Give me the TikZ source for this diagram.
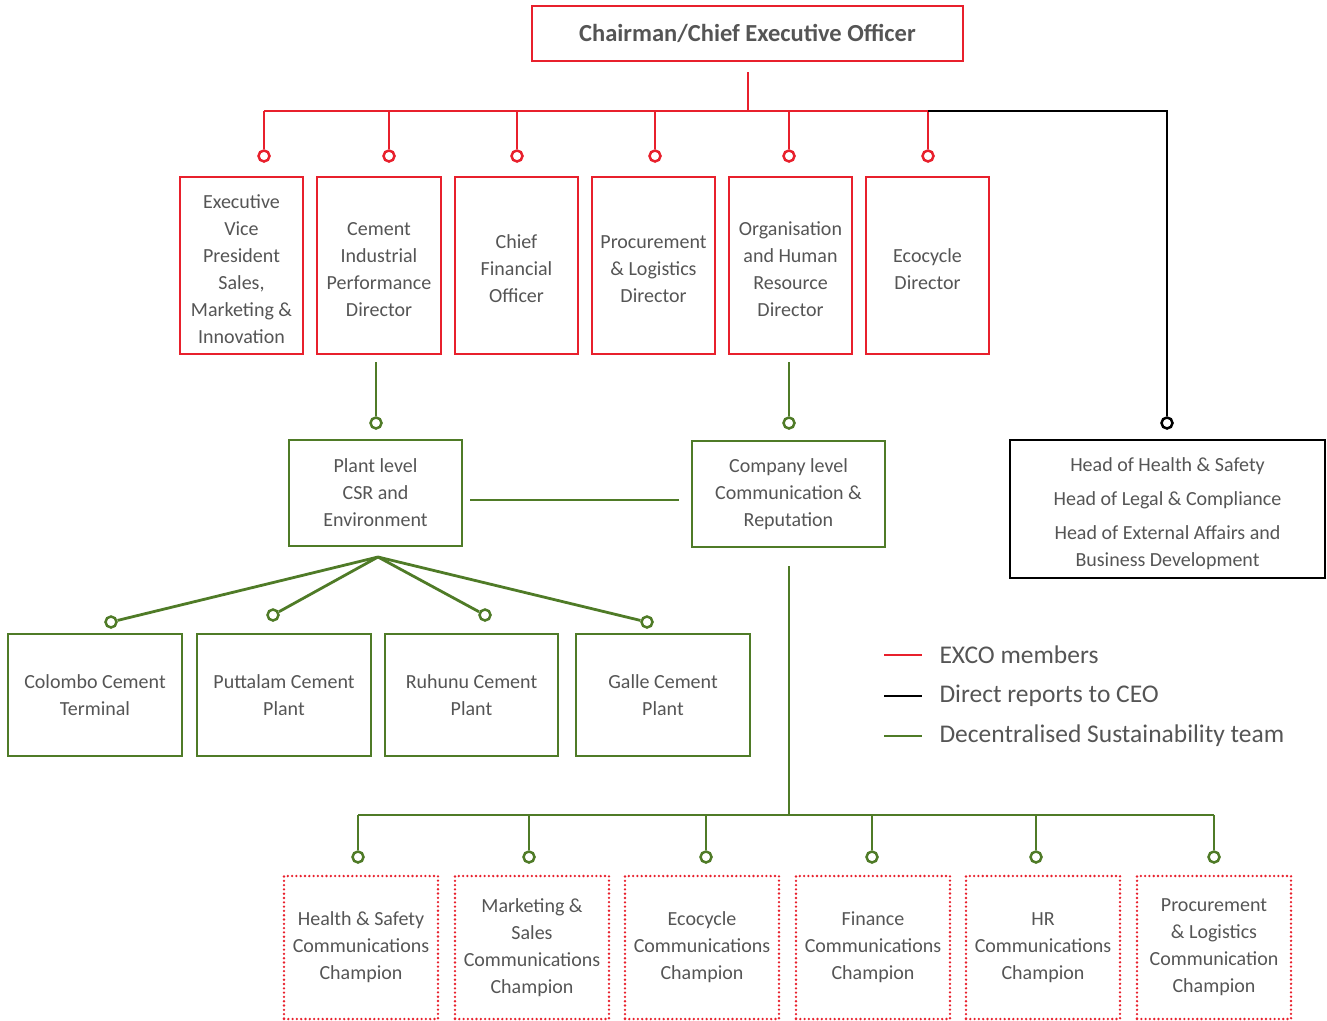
\documentclass[tikz,border=0pt]{standalone}
\usepackage{fontspec}
\setmainfont{Carlito}
% invisible strut that deepens the first line of a node's text
\newcommand\pushdown[1]{\rule{0pt}{#1}}
\begin{document}
\definecolor{exred}{HTML}{E8202C}
\definecolor{susgreen}{HTML}{4F7B27}
\definecolor{txtgrey}{HTML}{555555}
\begin{tikzpicture}[x=1pt,y=-1pt,
  every node/.style={text=txtgrey, align=center, font=\fontsize{20}{27}\selectfont},
  box/.style={draw, line width=2.8pt, fill=white, inner sep=0pt},
  redbox/.style={box, draw=exred},
  greenbox/.style={box, draw=susgreen},
  blackbox/.style={box, draw=black},
  dotbox/.style={draw=exred, line width=2.6pt, dash pattern=on 0pt off 4.3pt, line cap=round, inner sep=0pt},
  redl/.style={draw=exred, line width=2.8pt},
  greenl/.style={draw=susgreen, line width=2.8pt},
  blackl/.style={draw=black, line width=2.8pt},
  pin/.style={circle, minimum size=11pt, inner sep=0pt, line width=2.5pt, fill=white},
  redpin/.style={pin, draw=exred},
  greenpin/.style={pin, draw=susgreen},
  blackpin/.style={pin, draw=black},
]
\useasboundingbox (0,0) rectangle (1327,1020);

% ---- top level ----
\node[redbox, minimum width=431pt, minimum height=55pt, font=\fontsize{24.5}{27}\selectfont\bfseries] (ceo) at (747.5,33.5) {Chairman/Chief Executive Officer};

\node[redbox, minimum width=123pt, minimum height=177pt] (evp) at (241.5,265.5) {\pushdown{21pt}Executive\\Vice\\President\\Sales,\\Marketing \&\\Innovation};
\node[redbox, minimum width=124pt, minimum height=177pt] (cip) at (379,265.5) {\pushdown{21pt}Cement\\Industrial\\Performance\\Director};
\node[redbox, minimum width=123pt, minimum height=177pt] (cfo) at (516.5,265.5) {\pushdown{21pt}Chief\\Financial\\Officer};
\node[redbox, minimum width=123pt, minimum height=177pt] (pld) at (653.5,265.5) {\pushdown{21pt}Procurement\\\& Logistics\\Director};
\node[redbox, minimum width=123pt, minimum height=177pt] (ohr) at (790.5,265.5) {\pushdown{21pt}Organisation\\and Human\\Resource\\Director};
\node[redbox, minimum width=123pt, minimum height=177pt] (eco) at (927.5,265.5) {\pushdown{21pt}Ecocycle\\Director};

% CEO bus
\coordinate (ceostem) at (748,72);
\coordinate (bus) at (748,111);
\draw[redl] (ceostem) -- (bus);
\foreach \x/\n in {264/1,389/2,517/3,655/4,789/5,928/6}{
  \coordinate (tap\n) at (\x,111);
  \node[redpin] (rp\n) at (\x,156) {};
}
\draw[redl] (tap1) -- (tap6);
\foreach \n in {1,...,6}{ \draw[redl] (tap\n) -- (rp\n.north); }

% direct reports
\node[blackbox, minimum width=315pt, minimum height=138pt, font=\fontsize{20}{34}\selectfont] (heads) at (1167.5,509) {\pushdown{24pt}Head of Health \& Safety\\Head of Legal \& Compliance\\Head of External Affairs and\\[-7pt]Business Development};
\node[blackpin] (bp) at (1167,423) {};
\coordinate (bcorner) at (1167,111);
\draw[blackl] (tap6) -- (bcorner) -- (bp.north);

% ---- sustainability team ----
\node[greenbox, minimum width=173pt, minimum height=106pt] (plant) at (375.5,493) {Plant level\\CSR and\\Environment};
\node[greenbox, minimum width=193pt, minimum height=106pt] (comp) at (788.5,494) {Company level\\Communication \&\\Reputation};

\coordinate (cipfoot) at (376,362);
\node[greenpin] (gp1) at (376,423) {};
\draw[greenl] (cipfoot) -- (gp1.north);
\coordinate (ohrfoot) at (789,362);
\node[greenpin] (gp2) at (789,423) {};
\draw[greenl] (ohrfoot) -- (gp2.north);

\coordinate (linkl) at (470,500);
\coordinate (linkr) at (679,500);
\draw[greenl] (linkl) -- (linkr);

% plants
\node[greenbox, minimum width=174pt, minimum height=122pt] (colombo) at (95,695) {Colombo Cement\\Terminal};
\node[greenbox, minimum width=174pt, minimum height=122pt] (puttalam) at (284,695) {Puttalam Cement\\Plant};
\node[greenbox, minimum width=173pt, minimum height=122pt] (ruhunu) at (471.5,695) {Ruhunu Cement\\Plant};
\node[greenbox, minimum width=174pt, minimum height=122pt] (galle) at (663,695) {Galle Cement\\Plant};

\coordinate (apex) at (378,557);
\node[greenpin] (fp1) at (111,622) {};
\node[greenpin] (fp2) at (273,615) {};
\node[greenpin] (fp3) at (485,615) {};
\node[greenpin] (fp4) at (647,622) {};
\foreach \n in {1,...,4}{ \draw[greenl] (apex) -- (fp\n); }

% champions
\coordinate (compfoot) at (789,566);
\coordinate (gbus) at (789,815);
\draw[greenl] (compfoot) -- (gbus);
\foreach \x/\n in {358/1,529/2,706/3,872/4,1036/5,1214/6}{
  \coordinate (gt\n) at (\x,815);
  \node[greenpin] (cp\n) at (\x,857) {};
}
\draw[greenl] (gt1) -- (gt6);
\foreach \n in {1,...,6}{ \draw[greenl] (gt\n) -- (cp\n.north); }

\node[dotbox, minimum width=154pt, minimum height=143pt] (ch1) at (361,947.5) {Health \& Safety\\Communications\\Champion};
\node[dotbox, minimum width=154pt, minimum height=143pt] (ch2) at (532,947.5) {Marketing \&\\Sales\\Communications\\Champion};
\node[dotbox, minimum width=154pt, minimum height=143pt] (ch3) at (702,947.5) {Ecocycle\\Communications\\Champion};
\node[dotbox, minimum width=154pt, minimum height=143pt] (ch4) at (873,947.5) {Finance\\Communications\\Champion};
\node[dotbox, minimum width=154pt, minimum height=143pt] (ch5) at (1043,947.5) {HR\\Communications\\Champion};
\node[dotbox, minimum width=154pt, minimum height=143pt] (ch6) at (1214,947.5) {Procurement\\\& Logistics\\Communication\\Champion};

% ---- legend ----
\foreach \y/\c/\t/\n in {655/exred/EXCO members/1, 696/black/Direct reports to CEO/2, 736/susgreen/Decentralised Sustainability team/3}{
  \coordinate (ka\n) at (884,\y);
  \coordinate (kb\n) at (922,\y);
  \draw[draw=\c, line width=2.8pt] (ka\n) -- (kb\n);
  \node[anchor=west, font=\fontsize{25.5}{28}\selectfont] (kt\n) at (936,\y) {\t};
}
\end{tikzpicture}
\end{document}
